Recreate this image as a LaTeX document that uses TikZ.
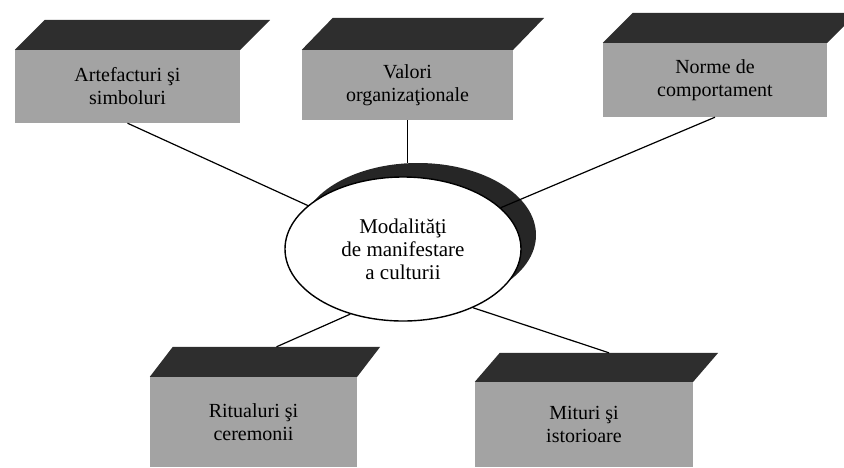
\documentclass[tikz,border=0pt]{standalone}
\usepackage{fontspec}
\setmainfont{Liberation Serif}
\usetikzlibrary{shapes.geometric}

\tikzset{
  facebox/.style={fill=gray!72, inner sep=0pt, align=center,
    font=\fontsize{20}{23}\selectfont},
  topface/.style={fill=black!82},
  link/.style={line width=1.2pt}
}

\begin{document}
\begin{tikzpicture}[x=1pt, y=-1pt]
  \useasboundingbox (0,0) rectangle (844,467);

  % front faces of the boxes
  \node[facebox, minimum width=225pt, minimum height=73pt] (art) at (127.5,86.5) {Artefacturi şi\\simboluri};
  \node[facebox, minimum width=211pt, minimum height=70pt] (val) at (407.5,85) {Valori\\organizaţionale};
  \node[facebox, minimum width=224pt, minimum height=74pt] (norm) at (715,80) {Norme de\\comportament};
  \node[facebox, minimum width=207pt, minimum height=90pt] (rit) at (253.5,422) {Ritualuri şi\\ceremonii};
  \node[facebox, minimum width=218pt, minimum height=85pt] (mit) at (584,424.5) {Mituri şi\\istorioare};

  % top faces
  \foreach \n/\dx/\dy in {art/30/30, val/31/32, norm/30/30, rit/23/30, mit/25/29} {
    \fill[topface] (\n.north west) -- ++(\dx,-\dy) -- ([shift={(\dx,-\dy)}]\n.north east)
      -- (\n.north east) -- cycle;
    \coordinate (\n-top) at ([shift={(\dx,-\dy)}]\n.north);
  }

  % central ellipse with its shadow
  \node[ellipse, fill=black!85, minimum width=236pt, minimum height=144pt] (shade) at (418,235) {};
  \node[ellipse, draw, line width=1.4pt, fill=white, minimum width=236pt, minimum height=144pt,
    align=center, font=\fontsize{21}{23}\selectfont] (ell) at (403,249)
    {Modalităţi\\de manifestare\\a culturii};

  % connectors
  \draw[link] (art.south) -- (ell);
  \draw[link] (val.south) -- (shade.north -| val.south);
  \draw[link] (norm.south) -- (ell);
  \draw[link] (ell.231) -- (rit-top);
  \draw[link] (ell.-40) -- (mit-top);
\end{tikzpicture}
\end{document}
